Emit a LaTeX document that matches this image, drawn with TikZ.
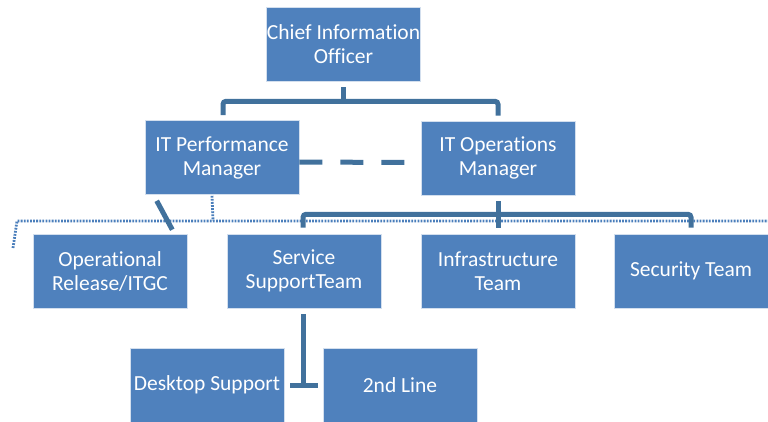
\documentclass[tikz,border=0pt]{standalone}
\usepackage{fontspec}
\setmainfont[Ligatures={NoCommon,NoContextual}]{Carlito}
\usetikzlibrary{calc}
\definecolor{boxblue}{HTML}{4F81BD}
\definecolor{linkblue}{HTML}{41719C}
\definecolor{dotblue}{HTML}{4A7EBB}

\begin{document}
\begin{tikzpicture}[x=1pt,y=-1pt,
    orgbox/.style={rectangle, fill=boxblue, draw=white!75!boxblue, line width=0.6pt,
        minimum width=154pt, minimum height=74pt, inner sep=0pt, text=white,
        align=center, font=\fontsize{21.5}{24}\selectfont},
    conn/.style={draw=linkblue, line width=5pt},
    dots/.style={draw=dotblue, line width=2.8pt, dash pattern=on 1.8pt off 1.3pt}
]
\useasboundingbox (0,0) rectangle (768,422);

\node[orgbox] (cio) at (343.5,44) {Chief Information\\Officer};
\node[orgbox] (perf) at (222,157.5) {IT Performance\\Manager};
\node[orgbox] (ops) at (498,158) {IT Operations\\Manager};

\node[orgbox] (oper) at (110,271) {Operational\\Release/ITGC};
\node[orgbox] (svc) at (304,271) {Service\\SupportTeam};
\node[orgbox] (infra) at (498,271) {Infrastructure\\Team};
\node[orgbox] (sec) at (691,271) {Security Team};

\node[orgbox] (desk) at (207,385) {Desktop Support};
\node[orgbox] (second) at (400,385) {2nd Line};

\coordinate (dotL) at (13,248);
\coordinate (dotK) at (17,221);
\coordinate (dotR) at (768,221);

\draw[dots] (dotL) -- (dotK) -- (dotR);
\draw[dots] ($(perf.south)+(-10,1)$) -- ($(perf.south)+(-9,26)$);

\draw[conn] ($(cio.south)+(0,6)$) -- ($(cio.south)+(0,20)$);
\draw[conn, rounded corners=3pt] ($(perf.north)+(1,-5)$) |- ($(cio.south)+(0,20)$) -| ($(ops.north)+(0,-5)$);

\draw[conn, dash pattern=on 23pt off 18pt] ($(perf.east)+(0,4.5)$) -- ($(ops.west)+(-15,4.5)$);

\draw[conn] ($(ops.south)+(0,6)$) -- ($(infra.north)+(0,-6)$);
\draw[conn, rounded corners=3pt] ($(svc.north)+(-1,-6)$) |- ($(ops.south)+(0,19)$) -| ($(sec.north)+(0,-6)$);

\draw[conn] ($(perf.south west)+(12,6)$) -- ($(oper.north east)+(-15,-4)$);

\draw[conn] ($(svc.south)+(-1,6)$) -- ($(svc.south |- desk.east)+(-1,0)$);
\draw[conn] ($(desk.east)+(6,0)$) -- ($(second.west)+(-5,0)$);
\end{tikzpicture}
\end{document}
